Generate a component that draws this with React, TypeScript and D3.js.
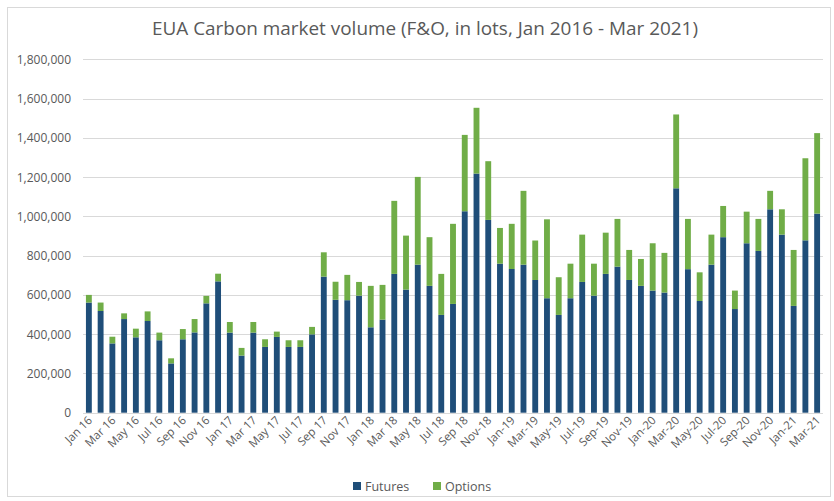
import React from "react";
import * as d3 from "d3";

const months: string[] = [];
const monthNames = ["Jan","Feb","Mar","Apr","May","Jun","Jul","Aug","Sep","Oct","Nov","Dec"];
for (let y = 16; y <= 21; y++) for (let m = 0; m < 12; m++) { if (y === 21 && m > 2) break; months.push(`${monthNames[m]} ${y}`); }

const futures = [
  561000, 518000, 353000, 477000, 384000, 467000, 369000, 251000, 374000, 409000, 557000, 669000,
  408000, 291000, 408000, 335000, 386000, 335000, 335000, 399000, 693000, 575000, 573000, 596000,
  435000, 474000, 707000, 627000, 754000, 646000, 498000, 554000, 1026000, 1218000, 982000, 759000,
  732000, 754000, 676000, 583000, 498000, 583000, 666000, 596000, 707000, 744000, 676000, 646000,
  622000, 612000, 1143000, 731000, 569000, 754000, 894000, 528000, 863000, 824000, 1036000, 907000,
  544000, 878000, 1014000,
];
const options = [
  39000, 43000, 34000, 29000, 44000, 49000, 39000, 26000, 52000, 68000, 38000, 39000,
  54000, 39000, 54000, 39000, 27000, 34000, 34000, 38000, 124000, 92000, 129000, 70000,
  211000, 177000, 372000, 275000, 447000, 248000, 209000, 408000, 389000, 335000, 299000, 182000,
  230000, 376000, 201000, 402000, 192000, 176000, 241000, 163000, 210000, 243000, 153000, 137000,
  241000, 202000, 376000, 256000, 146000, 153000, 159000, 94000, 161000, 163000, 94000, 129000,
  285000, 418000, 410000,
];
const tickLabels = [
  "Jan 16","Mar 16","May 16","Jul 16","Sep 16","Nov 16","Jan 17","Mar 17","May 17","Jul 17","Sep 17","Nov 17",
  "Jan 18","Mar 18","May 18","Jul 18","Sep 18","Nov-18","Jan-19","Mar-19","May-19","Jul-19","Sep-19","Nov-19",
  "Jan-20","Mar-20","May-20","Jul-20","Sep-20","Nov-20","Jan-21","Mar-21",
];
const yTicks = [0, 200000, 400000, 600000, 800000, 1000000, 1200000, 1400000, 1600000, 1800000];
const seriesNames = ["Futures", "Options"];
const colors = ["#1F4E79", "#70AD47"];

export default function App() {
  const W = 834, H = 501;
  const left = 83, right = 823, top = 59.3, bottom = 412.7;
  const x = d3.scaleBand<number>().domain(d3.range(months.length)).range([left, right]).paddingInner(0.5).paddingOuter(0.25);
  const y = d3.scaleLinear().domain([0, 1800000]).range([bottom, top]);
  const fmt = d3.format(",");
  const font = "'Open Sans', 'Liberation Sans', sans-serif";
  const rows = months.map((m, i) => ({ i, Futures: futures[i], Options: options[i] }));
  const stack = d3.stack<any>().keys(seriesNames)(rows);

  return (
    <svg width={W} height={H} style={{ position: "absolute", left: 0, top: 0, background: "#fff" }} fontFamily={font}>
      <rect x={0} y={0} width={W} height={H} fill="#fff" />
      <rect x={7.5} y={7.5} width={823} height={489} fill="none" stroke="#D9D9D9" />
      <text x={425} y={35} textAnchor="middle" fontSize={17.5} fill="#595959" textLength={546} lengthAdjust="spacingAndGlyphs">
        EUA Carbon market volume (F&amp;O, in lots, Jan 2016 - Mar 2021)
      </text>
      {yTicks.map(t => (
        <g key={t}>
          <line x1={left} x2={right} y1={Math.round(y(t)) + 0.5} y2={Math.round(y(t)) + 0.5} stroke="#D9D9D9" strokeWidth={1} />
          <text x={71} y={y(t) + 4.5} textAnchor="end" fontSize={12} fill="#595959">{fmt(t)}</text>
        </g>
      ))}
      {stack.map((s, si) => (
        <g key={si} fill={colors[si]}>
          {s.map((d, i) => (
            <rect key={i} x={x(i)} width={x.bandwidth()} y={y(d[1])} height={y(d[0]) - y(d[1])} />
          ))}
        </g>
      ))}
      {tickLabels.map((lab, k) => {
        const i = k * 2;
        const cx = (x(i) as number) + x.bandwidth() / 2;
        return (
          <text key={lab} transform={`translate(${cx + 4},${421}) rotate(-45)`} textAnchor="end" fontSize={11.5} fill="#595959">
            {lab}
          </text>
        );
      })}
      <g fontSize={12.5} fill="#595959">
        <rect x={353} y={482} width={8} height={8} fill={colors[0]} />
        <text x={365} y={491}>{seriesNames[0]}</text>
        <rect x={433} y={482} width={8} height={8} fill={colors[1]} />
        <text x={445} y={491}>{seriesNames[1]}</text>
      </g>
    </svg>
  );
}
